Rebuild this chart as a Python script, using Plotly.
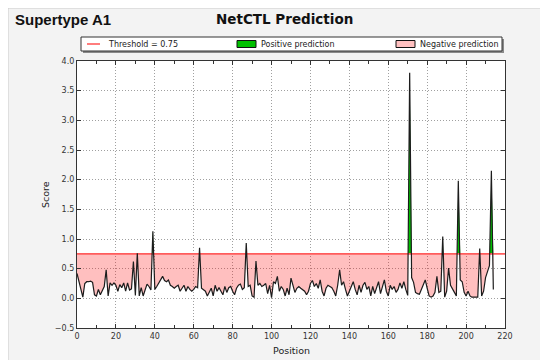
import plotly.graph_objects as go

# ---------------- data ----------------
positions = list(range(215))
scores = [
    0.42, 0.30, 0.15, 0.02, 0.25, 0.28, 0.28, 0.29, 0.27, 0.06,
    0.04, 0.15, 0.06, 0.12, 0.20, 0.48, 0.04, 0.26, 0.22, 0.26,
    0.22, 0.12, 0.23, 0.18, 0.26, 0.12, 0.26, 0.14, 0.16, 0.62,
    0.05, 0.76, 0.04, 0.18, 0.04, 0.14, 0.24, 0.20, 0.14, 1.13,
    0.15, 0.20, 0.25, 0.31, 0.37, 0.30, 0.28, 0.31, 0.22, 0.20,
    0.17, 0.20, 0.22, 0.12, 0.18, 0.22, 0.12, 0.20, 0.15, 0.12,
    0.15, 0.20, 0.18, 0.85, 0.17, 0.15, 0.12, 0.04, 0.12, 0.17,
    0.04, 0.22, 0.12, 0.18, 0.12, 0.06, 0.20, 0.10, 0.18, 0.20,
    0.12, 0.06, 0.17, 0.22, 0.24, 0.15, 0.18, 0.93, 0.20, 0.22,
    0.04, 0.02, 0.63, 0.22, 0.25, 0.20, 0.22, 0.25, 0.08, 0.22,
    0.01, 0.28, 0.25, 0.37, 0.12, 0.20, 0.15, 0.04, 0.17, 0.06,
    0.34, 0.20, 0.10, 0.17, 0.20, 0.17, 0.15, 0.12, 0.06, 0.12,
    0.25, 0.30, 0.20, 0.25, 0.17, 0.31, 0.12, 0.04, 0.17, 0.22,
    0.20, 0.18, 0.12, 0.04, 0.22, 0.48, 0.22, 0.28, 0.15, 0.04,
    0.12, 0.20, 0.28, 0.15, 0.06, 0.22, 0.10, 0.22, 0.27, 0.15,
    0.20, 0.04, 0.20, 0.08, 0.20, 0.28, 0.08, 0.18, 0.31, 0.12,
    0.04, 0.22, 0.15, 0.20, 0.10, 0.15, 0.26, 0.17, 0.28, 0.15,
    0.05, 3.80, 0.35, 0.27, 0.10, 0.08, 0.07, 0.15, 0.25, 0.31,
    0.17, 0.04, 0.02, 0.04, 0.10, 0.37, 0.10, 0.12, 1.04, 0.02,
    0.12, 0.51, 0.22, 0.17, 0.10, 0.04, 1.98, 0.31, 0.28, 0.10,
    0.04, 0.12, 0.04, 0.02, 0.02, 0.02, 0.02, 0.84, 0.04, 0.12,
    0.35, 0.45, 0.55, 2.15, 0.15,
]
threshold = 0.75
x_range = [0, 220]
y_range = [-0.5, 4.0]
x_ticks = [0, 20, 40, 60, 80, 100, 120, 140, 160, 180, 200, 220]
y_ticks = [-0.5, 0.0, 0.5, 1.0, 1.5, 2.0, 2.5, 3.0, 3.5, 4.0]
y_tick_labels = ["\u22120.5", "0.0", "0.5", "1.0", "1.5", "2.0", "2.5", "3.0", "3.5", "4.0"]
title_left = "Supertype A1"
title_main = "NetCTL Prediction"
legend_labels = ["Threshold = 0.75", "Positive prediction", "Negative prediction"]

# ---------------- styles ----------------
PINK = "rgba(255,0,0,0.25)"
PINK_SOLID = "#ffc0c0"
GREEN = "#00c000"
RED = "#ff5c5c"
FONT = "DejaVu Sans"
BG = "#f3f3f3"

OFF = 8                     # page body margin
W, H = 548 - OFF, 360 - OFF  # figure size
# plot area in window pixels
L, R, T, B = 77, 505, 61, 328


def fx(px):
    return (px - L) / (R - L)


def fy(py):
    return (B - py) / (B - T)


# insert threshold crossings so the fills are clean
xs, ys = [], []
for i, p in enumerate(positions):
    if i > 0:
        y0, y1 = scores[i - 1], scores[i]
        if (y0 - threshold) * (y1 - threshold) < 0:
            t = (threshold - y0) / (y1 - y0)
            xs.append(positions[i - 1] + t * (p - positions[i - 1]))
            ys.append(threshold)
    xs.append(p)
    ys.append(scores[i])
lower = [min(v, threshold) for v in ys]
upper = [max(v, threshold) for v in ys]
thr = [threshold] * len(xs)

fig = go.Figure()
common = dict(mode="lines", showlegend=False, hoverinfo="skip")
fig.add_trace(go.Scatter(x=xs, y=thr, line=dict(width=0), **common))
fig.add_trace(go.Scatter(x=xs, y=lower, fill="tonexty", fillcolor=PINK,
                         line=dict(width=0), **common))
fig.add_trace(go.Scatter(x=xs, y=thr, line=dict(width=0), **common))
fig.add_trace(go.Scatter(x=xs, y=upper, fill="tonexty", fillcolor=GREEN,
                         line=dict(width=0), **common))
fig.add_trace(go.Scatter(x=x_range, y=[threshold, threshold],
                         line=dict(color=RED, width=1.6), **common))
fig.add_trace(go.Scatter(x=positions, y=scores,
                         line=dict(color="#1c1c1c", width=1.2), **common))

shapes = [
    # figure edge
    dict(type="rect", xref="paper", yref="paper", layer="below",
         x0=fx(OFF), x1=fx(W + OFF + 5), y0=fy(H + OFF + 5), y1=fy(OFF),
         fillcolor=BG, line=dict(color="#cccccc", width=1)),
    # white plot area
    dict(type="rect", xref="paper", yref="paper", layer="below",
         x0=0, x1=1, y0=0, y1=1, fillcolor="white", line=dict(width=0)),
    # legend shadow
    dict(type="rect", xref="paper", yref="paper", layer="above",
         x0=fx(83), x1=fx(504), y0=fy(53), y1=fy(39),
         fillcolor="#8a8a8a", line=dict(width=0)),
    # legend box
    dict(type="rect", xref="paper", yref="paper", layer="above",
         x0=fx(81), x1=fx(502), y0=fy(51), y1=fy(37),
         fillcolor="white", line=dict(color="#333333", width=1)),
    # legend symbols
    dict(type="line", xref="paper", yref="paper", layer="above",
         x0=fx(87), x1=fx(100), y0=fy(44), y1=fy(44),
         line=dict(color=RED, width=1.6)),
    dict(type="rect", xref="paper", yref="paper", layer="above",
         x0=fx(237), x1=fx(256), y0=fy(47.5), y1=fy(40.5),
         fillcolor=GREEN, line=dict(color="#111111", width=1)),
    dict(type="rect", xref="paper", yref="paper", layer="above",
         x0=fx(396), x1=fx(415), y0=fy(47.5), y1=fy(40.5),
         fillcolor=PINK_SOLID, line=dict(color="#111111", width=1)),
]

annotations = [
    dict(text="<b>%s</b>" % title_left, xref="paper", yref="paper",
         x=fx(13), y=fy(19), xanchor="left", yanchor="middle", showarrow=False,
         font=dict(family="Liberation Sans", size=15, color="#111111")),
    dict(text="<b>%s</b>" % title_main, xref="paper", yref="paper",
         x=fx(284), y=fy(19), xanchor="center", yanchor="middle", showarrow=False,
         font=dict(family=FONT, size=13.5, color="#111111")),
    dict(text=legend_labels[0], xref="paper", yref="paper", x=fx(106), y=fy(44),
         xanchor="left", yanchor="middle", showarrow=False,
         font=dict(family=FONT, size=8, color="#222222")),
    dict(text=legend_labels[1], xref="paper", yref="paper", x=fx(259), y=fy(44),
         xanchor="left", yanchor="middle", showarrow=False,
         font=dict(family=FONT, size=8, color="#222222")),
    dict(text=legend_labels[2], xref="paper", yref="paper", x=fx(418), y=fy(44),
         xanchor="left", yanchor="middle", showarrow=False,
         font=dict(family=FONT, size=8, color="#222222")),
    dict(text="Position", xref="paper", yref="paper", x=fx(291), y=fy(350),
         xanchor="center", yanchor="middle", showarrow=False,
         font=dict(family=FONT, size=9.5, color="#222222")),
    dict(text="Score", xref="paper", yref="paper", x=fx(45), y=fy(195),
         xanchor="center", yanchor="middle", showarrow=False, textangle=-90,
         font=dict(family=FONT, size=9.5, color="#222222")),
]

axis_common = dict(
    showline=True, linecolor="#333333", linewidth=1.2, mirror="allticks",
    ticks="inside", ticklen=4, tickwidth=1, tickcolor="#333333",
    showgrid=True, gridcolor="#a0a0a0", gridwidth=1, griddash="1px,2px",
    zeroline=False, tickfont=dict(family=FONT, size=8, color="#333333"),
)

fig.update_layout(
    width=W, height=H, autosize=False,
    margin=dict(l=L - OFF, r=W + OFF - R, t=T - OFF, b=H + OFF - B, pad=0),
    paper_bgcolor=BG, plot_bgcolor="white",
    showlegend=False,
    xaxis=dict(range=x_range, tickmode="array", tickvals=x_ticks,
               minor=dict(dtick=10, ticks="inside", ticklen=2.5,
                          tickcolor="#333333", showgrid=False),
               **axis_common),
    yaxis=dict(range=y_range, tickmode="array", tickvals=y_ticks,
               ticktext=y_tick_labels, **axis_common),
    shapes=shapes,
    annotations=annotations,
)

fig.write_html("out.html")
